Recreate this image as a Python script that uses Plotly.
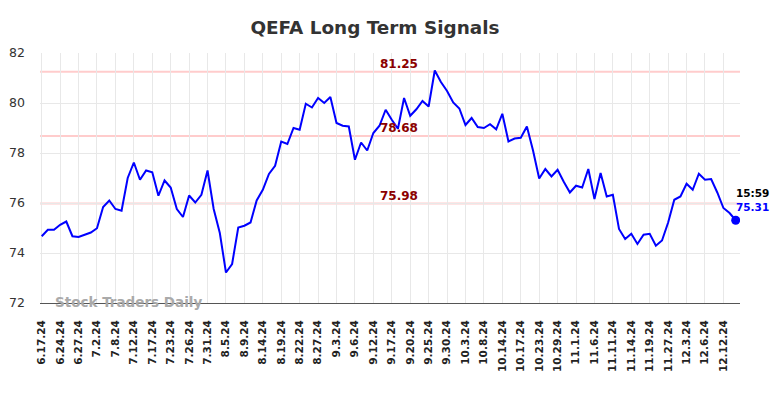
import plotly.graph_objects as go

dates = ["6.17.24","6.18.24","6.20.24","6.24.24","6.25.24","6.26.24","6.27.24","6.28.24","7.1.24","7.2.24",
         "7.3.24","7.5.24","7.8.24","7.9.24","7.10.24","7.12.24","7.15.24","7.16.24","7.17.24","7.18.24",
         "7.22.24","7.23.24","7.24.24","7.25.24","7.26.24","7.29.24","7.30.24","7.31.24","8.1.24","8.2.24",
         "8.5.24","8.6.24","8.8.24","8.9.24","8.12.24","8.13.24","8.14.24","8.15.24","8.16.24","8.19.24",
         "8.20.24","8.21.24","8.22.24","8.23.24","8.26.24","8.27.24","8.28.24","8.30.24","9.3.24","9.4.24",
         "9.5.24","9.6.24","9.10.24","9.11.24","9.12.24","9.13.24","9.16.24","9.17.24","9.18.24","9.19.24",
         "9.20.24","9.23.24","9.24.24","9.25.24","9.26.24","9.27.24","9.30.24","10.1.24","10.2.24","10.3.24",
         "10.4.24","10.7.24","10.8.24","10.9.24","10.11.24","10.14.24","10.15.24","10.16.24","10.17.24","10.18.24",
         "10.21.24","10.23.24","10.24.24","10.25.24","10.29.24","10.30.24","10.31.24","11.1.24","11.4.24","11.5.24",
         "11.6.24","11.7.24","11.8.24","11.11.24","11.12.24","11.13.24","11.14.24","11.15.24","11.18.24","11.19.24",
         "11.20.24","11.22.24","11.27.24","11.29.24","12.2.24","12.3.24","12.4.24","12.5.24","12.6.24","12.9.24",
         "12.10.24","12.12.24","12.13.24","12.16.24"]

prices = [74.67,74.93,74.93,75.13,75.26,74.67,74.64,74.74,74.82,74.99,
          75.84,76.10,75.76,75.69,77.00,77.62,76.93,77.30,77.23,76.29,
          76.90,76.62,75.76,75.44,76.30,76.02,76.33,77.30,75.76,74.80,
          73.22,73.56,75.02,75.09,75.22,76.10,76.53,77.16,77.49,78.46,
          78.36,79.00,78.93,79.97,79.82,80.20,80.00,80.24,79.20,79.09,
          79.06,77.73,78.42,78.10,78.80,79.09,79.73,79.33,78.97,80.20,
          79.49,79.75,80.08,79.86,81.30,80.84,80.48,80.02,79.78,79.12,
          79.40,79.04,79.00,79.15,78.95,79.57,78.46,78.58,78.61,79.06,
          78.10,76.98,77.36,77.06,77.33,76.85,76.42,76.69,76.62,77.36,
          76.16,77.20,76.26,76.33,74.96,74.56,74.77,74.36,74.73,74.77,
          74.29,74.50,75.22,76.13,76.26,76.77,76.53,77.17,76.93,76.96,
          76.42,75.80,75.60,75.31]

levels = [81.25, 78.68, 75.98]
tick_labels = dates[::3]
last_time = "15:59"

FONT = "DejaVu Sans"

fig = go.Figure()

for lv in levels:
    fig.add_shape(type="line", xref="paper", x0=0, x1=1, yref="y", y0=lv, y1=lv,
                  line=dict(color="#ffcccc", width=2), layer="below")
    fig.add_annotation(xref="paper", x=0.513, yref="y", y=lv, text=f"<b>{lv:.2f}</b>",
                       showarrow=False, yanchor="bottom", yshift=-1,
                       font=dict(family=FONT, size=12, color="#8b0000"))

fig.add_trace(go.Scatter(x=dates, y=prices, mode="lines",
                         line=dict(color="#0000ff", width=2), hoverinfo="skip"))
fig.add_trace(go.Scatter(x=[dates[-1]], y=[prices[-1]], mode="markers",
                         marker=dict(color="#0000ff", size=9), hoverinfo="skip"))

fig.add_annotation(x=dates[-1], y=prices[-1], text=f"<b>{last_time}</b>", showarrow=False,
                   xanchor="left", yanchor="bottom", xshift=-2, yshift=19,
                   font=dict(family=FONT, size=10.5, color="#000000"))
fig.add_annotation(x=dates[-1], y=prices[-1], text=f"<b>{prices[-1]:.2f}</b>", showarrow=False,
                   xanchor="left", yanchor="bottom", xshift=-2, yshift=5,
                   font=dict(family=FONT, size=10.5, color="#0000ff"))

fig.add_annotation(xref="paper", yref="paper", x=0.019, y=0.006, text="<b>Stock Traders Daily</b>",
                   showarrow=False, xanchor="left", yanchor="middle",
                   font=dict(family=FONT, size=13.5, color="#aaaaaa"))

fig.update_layout(
    width=784, height=398,
    margin=dict(l=32, r=52, t=45, b=103),
    paper_bgcolor="white", plot_bgcolor="white",
    showlegend=False,
    title=dict(text="<b>QEFA Long Term Signals</b>", x=0.468, xanchor="center", y=0.952, yanchor="middle",
               font=dict(family=FONT, size=18.4, color="#333333")),
    font=dict(family=FONT, color="#333333"),
)
fig.update_xaxes(type="category", range=[-0.28, 113.7], tickmode="array",
                 tickvals=tick_labels, ticktext=tick_labels, tickangle=-90,
                 tickfont=dict(family=FONT, size=10.5, color="#222222", weight="bold"),
                 showgrid=True, gridcolor="#e8e8e8", gridwidth=1,
                 showline=True, linecolor="#555555", linewidth=1, zeroline=False, ticks="",
                 ticklabelstandoff=12, automargin=False)
fig.update_yaxes(range=[72, 82], tickvals=[72, 74, 76, 78, 80, 82],
                 tickfont=dict(family=FONT, size=12.5, color="#333333"),
                 showgrid=True, gridcolor="#e8e8e8", gridwidth=1, zeroline=False, showline=False,
                 ticks="", ticklabelstandoff=14, automargin=False)

fig.write_html("out.html")
